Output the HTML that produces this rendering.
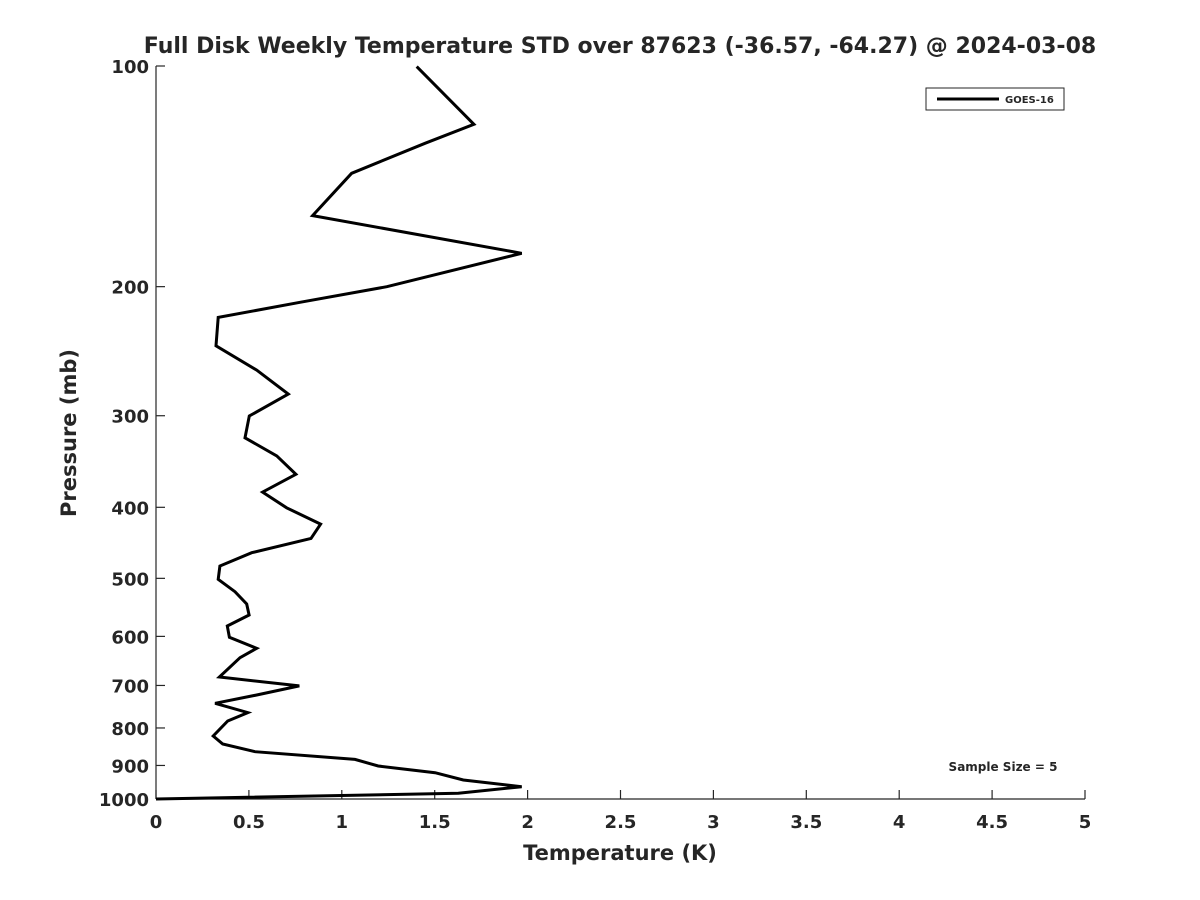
<!DOCTYPE html>
<html><head><meta charset="utf-8"><style>body{margin:0;background:#fff}svg{display:block}text{font-family:"DejaVu Sans","Liberation Sans",sans-serif;font-weight:bold;fill:#262626}</style></head>
<body>
<svg id="chart" width="1200" height="900" xmlns="http://www.w3.org/2000/svg">
<rect width="1200" height="900" fill="#fff"/>
<text x="620" y="53" text-anchor="middle" font-size="22">Full Disk Weekly Temperature STD over 87623 (-36.57, -64.27) @ 2024-03-08</text>
<g id="axes"></g>
<path id="line" fill="none" stroke="#000" stroke-width="3" stroke-linejoin="miter"/>
<g>
<rect x="926" y="88" width="138" height="22" fill="#fff" stroke="#262626" stroke-width="1"/>
<line x1="937" y1="99" x2="999" y2="99" stroke="#000" stroke-width="3"/>
<text x="1005" y="103" font-size="10">GOES-16</text>
</g>
<text x="1003" y="771" text-anchor="middle" font-size="12">Sample Size = 5</text>
<text x="620" y="860" text-anchor="middle" font-size="21">Temperature (K)</text>
<text x="76" y="433" text-anchor="middle" font-size="21" transform="rotate(-90 76 433)">Pressure (mb)</text>
</svg>
<script>
const temps=[1.403,1.711,1.448,1.053,0.843,1.968,1.242,0.775,0.335,0.323,0.542,0.712,0.502,0.479,0.650,0.753,0.574,0.703,0.886,0.834,0.515,0.344,0.335,0.425,0.488,0.501,0.384,0.395,0.542,0.452,0.341,0.771,0.542,0.318,0.494,0.386,0.308,0.359,0.533,1.071,1.196,1.502,1.654,1.968,1.627,0];
const pressures=[100.2,120.1,127.5,140.1,160,180.1,200,210.1,220.3,240.8,259.9,280.3,300.3,321.5,340.4,360.6,381.3,400.6,421.6,441,461.3,481,501.5,521.4,542,561,580.7,601.7,622.9,641.6,681.6,701,721.2,740.3,762.4,782.6,820.4,841.4,862,882.9,901.6,920.6,942.2,962,982.2,1000];
const xTicks=[0,0.5,1,1.5,2,2.5,3,3.5,4,4.5,5];
const yTicks=[100,200,300,400,500,600,700,800,900,1000];
const X0=156,X1=1085,Y0=66,Y1=799;
const xs=v=>X0+(v-0)/5*(X1-X0);
const ys=p=>Y0+Math.log10(p/100)*(Y1-Y0);
const NS='http://www.w3.org/2000/svg';
const ax=document.getElementById('axes');
function mk(t,a){const e=document.createElementNS(NS,t);for(const k in a)e.setAttribute(k,a[k]);ax.appendChild(e);return e;}
let e=mk('line',{x1:X0,y1:Y0,x2:X0,y2:Y1,stroke:'#262626','stroke-width':1.2});


e=mk('line',{x1:X0,y1:Y1,x2:X1,y2:Y1,stroke:'#262626','stroke-width':1.2});


xTicks.forEach(v=>{const x=xs(v);
let t=mk('line',{x1:x,y1:Y1,x2:x,y2:Y1-9,stroke:'#262626','stroke-width':1.2});


let l=mk('text',{x:x,y:Y1+29,'text-anchor':'middle','font-size':18});l.textContent=String(v);

});
yTicks.forEach(v=>{const y=ys(v);
let t=mk('line',{x1:X0,y1:y,x2:X0+9,y2:y,stroke:'#262626','stroke-width':1.2});


let l=mk('text',{x:X0-7,y:y+7,'text-anchor':'end','font-size':18});l.textContent=String(v);

});
document.getElementById('line').setAttribute('d',temps.map((t,i)=>(i?'L':'M')+xs(t).toFixed(1)+','+ys(pressures[i]).toFixed(1)).join(''));
</script>
</body></html>
